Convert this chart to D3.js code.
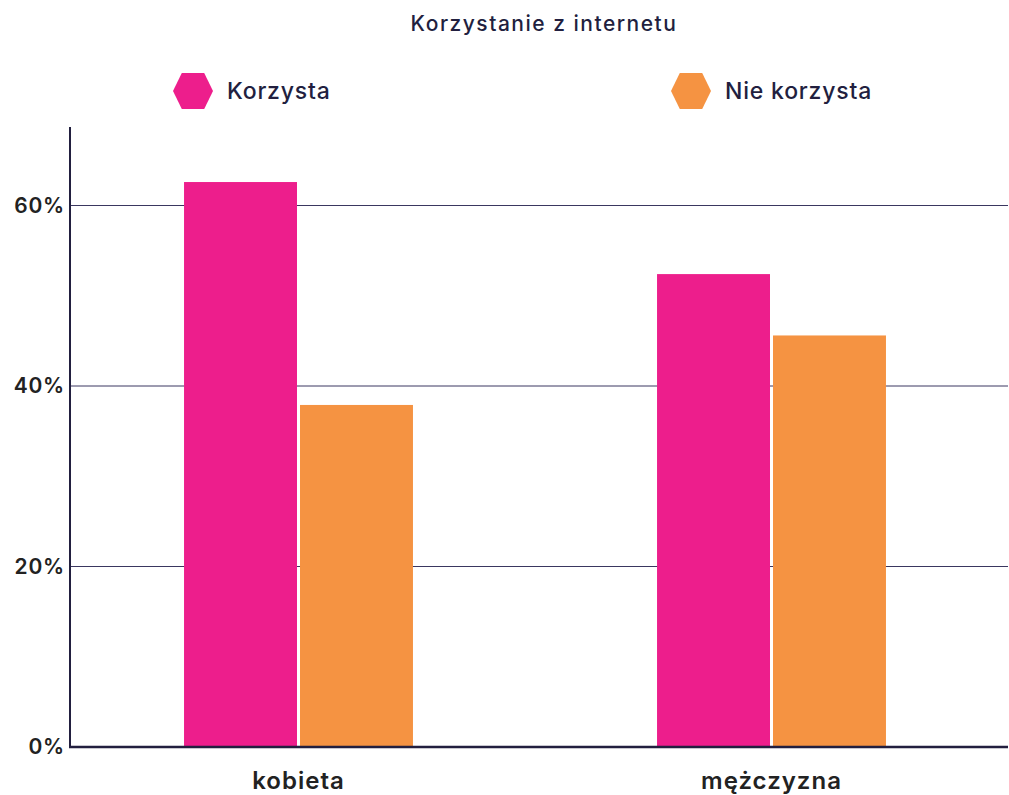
<!DOCTYPE html>
<html><head><meta charset="utf-8">
<script src="https://cdn.jsdelivr.net/npm/d3@7"></script>
<style>body{margin:0;background:#fff}svg{display:block}</style>
</head><body>
<svg id="c" width="1009" height="795"></svg>
<script>
const title = "Korzystanie z internetu";
const categories = ["kobieta", "mężczyzna"];
const seriesNames = ["Korzysta", "Nie korzysta"];
const korzysta = [62.6, 52.4];
const nieKorzysta = [37.9, 45.6];
const yTicks = [0, 20, 40, 60];
const colors = ["#ED1E8C", "#F59342"];

const seriesValues = [korzysta, nieKorzysta];
const svg = d3.select("#c");
const font = "Inter, 'DejaVu Sans', sans-serif";
const ink = "#221f3f";

const y = d3.scaleLinear().domain([0, 20]).range([747, 566.5]);
const x0 = d3.scaleBand().domain(categories).range([62, 1008]).paddingInner(0.516).paddingOuter(0.258);
const x1 = d3.scaleBand().domain(seriesNames).range([0, x0.bandwidth()]).paddingInner(0.026);

// gridlines
svg.append("g").selectAll("line").data(yTicks.filter(d => d > 0)).join("line")
  .attr("x1", 70).attr("x2", 1008).attr("y1", d => y(d)).attr("y2", d => y(d))
  .attr("stroke", "#3a3760").attr("stroke-width", 1);

// bars
const groups = svg.append("g").selectAll("g").data(categories).join("g")
  .attr("transform", d => `translate(${x0(d)},0)`);
groups.selectAll("rect").data((c, i) => seriesNames.map((s, j) => ({s, v: seriesValues[j][i], j})))
  .join("rect")
  .attr("x", d => x1(d.s)).attr("width", x1.bandwidth())
  .attr("y", d => y(d.v)).attr("height", d => y(0) - y(d.v))
  .attr("fill", d => colors[d.j]);

// axes lines
svg.append("line").attr("x1", 70).attr("x2", 70).attr("y1", 127).attr("y2", 748)
  .attr("stroke", ink).attr("stroke-width", 2);
svg.append("line").attr("x1", 69).attr("x2", 1008).attr("y1", y(0)).attr("y2", y(0))
  .attr("stroke", ink).attr("stroke-width", 2.5);

// y labels
svg.append("g").selectAll("text").data(yTicks).join("text")
  .attr("x", 65).attr("y", d => y(d)).attr("dy", "0.35em")
  .attr("text-anchor", "end").attr("font-family", font).attr("font-weight", 600)
  .attr("font-size", 21).attr("letter-spacing", 0.8).attr("fill", "#222").text(d => d + "%");

// x labels
svg.append("g").selectAll("text").data(categories).join("text")
  .attr("x", d => x0(d) + x0.bandwidth() / 2).attr("y", 789)
  .attr("text-anchor", "middle").attr("font-family", font).attr("font-weight", 600)
  .attr("font-size", 24).attr("letter-spacing", 1).attr("fill", "#222").text(d => d);

// title
svg.append("text").attr("x", 544).attr("y", 31).attr("text-anchor", "middle")
  .attr("font-family", font).attr("font-weight", 500).attr("font-size", 21)
  .attr("letter-spacing", 1.5).attr("fill", ink).text(title);

// legend
const legendX = [193, 691];
function hex(cx, cy, w, h) {
  const q = w * 0.22;
  return [[cx - w/2, cy], [cx - w/2 + q, cy - h/2], [cx + w/2 - q, cy - h/2], [cx + w/2, cy], [cx + w/2 - q, cy + h/2], [cx - w/2 + q, cy + h/2]];
}
const lg = svg.append("g").selectAll("g").data(seriesNames).join("g");
lg.append("polygon").attr("points", (d, i) => hex(legendX[i], 91, 40, 36).map(p => p.join(",")).join(" "))
  .attr("fill", (d, i) => colors[i]);
lg.append("text").attr("x", (d, i) => legendX[i] + 34).attr("y", 91).attr("dy", "0.35em")
  .attr("font-family", font).attr("font-weight", 500).attr("font-size", 23)
  .attr("letter-spacing", 0.8).attr("fill", ink).text(d => d);
</script>
</body></html>
